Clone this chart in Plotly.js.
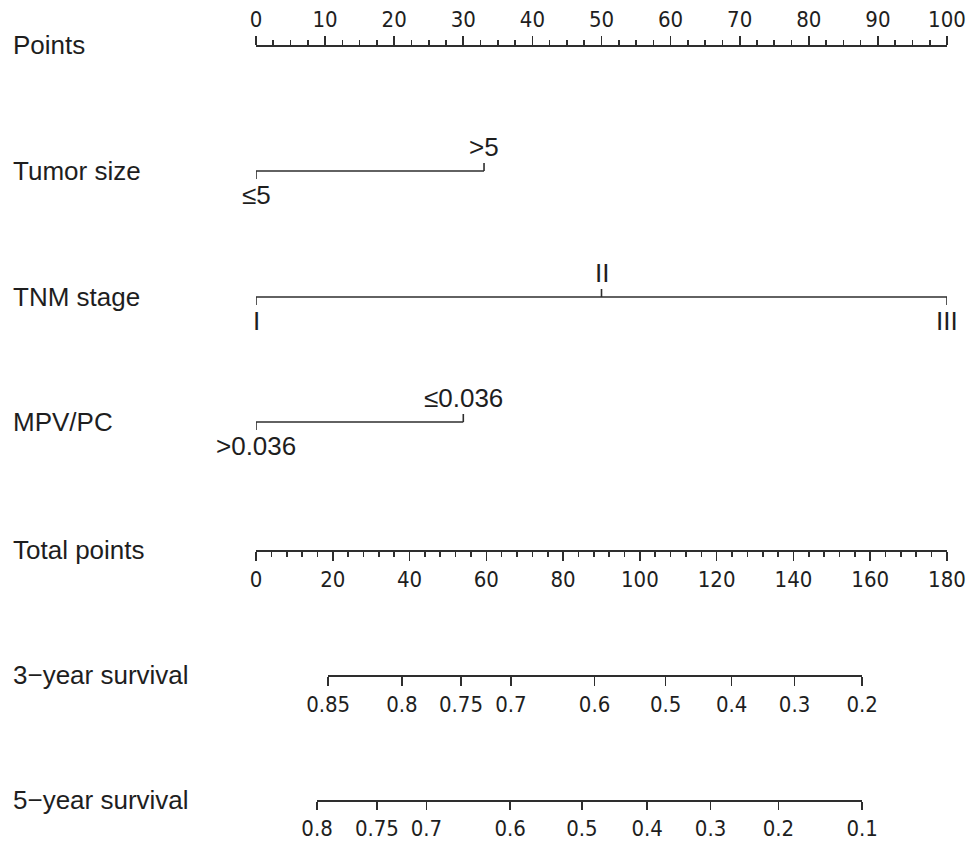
<!DOCTYPE html>
<html>
<head>
<meta charset="utf-8">
<script src="https://cdn.plot.ly/plotly-3.0.1.min.js"></script>
<style>html,body{margin:0;padding:0;background:#fff;}#chart{width:973px;height:841px;}</style>
</head>
<body>
<div id="chart"></div>
<script>
// ---- data ----
const rowLabels = ['Points', 'Tumor size', 'TNM stage', 'MPV/PC', 'Total points', '3\u2212year survival', '5\u2212year survival'];
const tumorLevels = ['\u22645', '>5'];
const tumorPoints = [0, 33];
const tnmLevels = ['I', 'II', 'III'];
const tnmPoints = [0, 50, 100];
const mpvLevels = ['>0.036', '\u22640.036'];
const mpvPoints = [0, 30];
const pointsRange = [0, 100];
const totalRange = [0, 180];
const surv3Labels = ['0.85', '0.8', '0.75', '0.7', '0.6', '0.5', '0.4', '0.3', '0.2'];
const surv3Total = [18.8, 38.0, 53.4, 66.4, 88.2, 106.7, 123.9, 140.3, 157.9];
const surv5Labels = ['0.8', '0.75', '0.7', '0.6', '0.5', '0.4', '0.3', '0.2', '0.1'];
const surv5Total = [15.9, 31.5, 44.4, 66.2, 84.9, 101.9, 118.4, 136.1, 157.9];

// ---- layout constants ----
const W = 973, H = 841;
const ML = 256, MR = 26;
const rowY = [45, 171, 297, 422, 550, 675, 800];
const lineColor = '#2e2e2e';
const textColor = '#1e1e1e';
const labelFont = {family: 'Liberation Sans, Arial, sans-serif', size: 26, color: textColor};
const tickFont = {family: 'Liberation Sans Narrow, DejaVu Sans Condensed, Arial Narrow, sans-serif', size: 22, color: textColor};
const LW = 1.6;
const varTick = 8;
const labOff = 24;

const pos = y => 1 - y / H;

const traces = [];
const annotations = [];

// row labels
rowLabels.forEach((t, i) => {
  annotations.push({text: t, xref: 'paper', yref: 'y', x: (11 - ML) / (W - ML - MR), y: rowY[i],
    xanchor: 'left', yanchor: 'middle', showarrow: false, font: labelFont});
});

// variable rows
function varRow(levels, pts, Y) {
  traces.push({x: [Math.min(...pts), Math.max(...pts)], y: [Y, Y], xaxis: 'x', yaxis: 'y', mode: 'lines',
    line: {color: lineColor, width: LW}, hoverinfo: 'skip', showlegend: false, cliponaxis: false});
  pts.forEach((p, i) => {
    const dir = (i % 2 === 0) ? 1 : -1;
    traces.push({x: [p, p], y: [Y, Y + dir * varTick], xaxis: 'x', yaxis: 'y', mode: 'lines',
      line: {color: lineColor, width: LW}, hoverinfo: 'skip', showlegend: false, cliponaxis: false});
    annotations.push({text: levels[i], xref: 'x', yref: 'y', x: p, y: Y + dir * labOff, xanchor: 'center',
      yanchor: 'middle', showarrow: false, font: labelFont});
  });
}
varRow(tumorLevels, tumorPoints, rowY[1]);
varRow(tnmLevels, tnmPoints, rowY[2]);
varRow(mpvLevels, mpvPoints, rowY[3]);

// dummy traces so each axis is drawn
function anchorTrace(xa, xs, Y) {
  traces.push({x: xs, y: xs.map(() => Y), xaxis: xa, yaxis: 'y', mode: 'markers',
    marker: {opacity: 0, size: 1}, hoverinfo: 'skip', showlegend: false});
}
anchorTrace('x', pointsRange, rowY[0]);
anchorTrace('x2', totalRange, rowY[4]);
anchorTrace('x3', surv3Total, rowY[5]);
anchorTrace('x4', surv5Total, rowY[6]);

const tr = totalRange[1] - totalRange[0];
const s3 = [Math.min(...surv3Total), Math.max(...surv3Total)];
const s5 = [Math.min(...surv5Total), Math.max(...surv5Total)];

const baseAxis = {
  showgrid: false, zeroline: false, showline: true, linecolor: lineColor, linewidth: LW,
  ticks: 'outside', ticklen: 9, tickwidth: LW, tickcolor: lineColor, tickfont: tickFont,
  fixedrange: true, anchor: 'free'
};

const layout = {
  width: W, height: H,
  margin: {l: ML, r: MR, t: 0, b: 0, pad: 0},
  paper_bgcolor: '#ffffff', plot_bgcolor: 'rgba(0,0,0,0)',
  showlegend: false,
  xaxis: Object.assign({}, baseAxis, {
    range: pointsRange, domain: [0, 1], side: 'top', position: pos(rowY[0]),
    tickmode: 'linear', tick0: 0, dtick: 10,
    minor: {dtick: 2.5, ticks: 'outside', ticklen: 5, tickwidth: LW, tickcolor: lineColor}
  }),
  xaxis2: Object.assign({}, baseAxis, {
    range: totalRange, domain: [0, 1], side: 'bottom', position: pos(rowY[4]),
    tickmode: 'linear', tick0: 0, dtick: 20,
    minor: {dtick: 4, ticks: 'outside', ticklen: 5, tickwidth: LW, tickcolor: lineColor}
  }),
  xaxis3: Object.assign({}, baseAxis, {
    range: s3, domain: [(s3[0] - totalRange[0]) / tr, (s3[1] - totalRange[0]) / tr],
    side: 'bottom', position: pos(rowY[5]), tickmode: 'array', tickvals: surv3Total, ticktext: surv3Labels
  }),
  xaxis4: Object.assign({}, baseAxis, {
    range: s5, domain: [(s5[0] - totalRange[0]) / tr, (s5[1] - totalRange[0]) / tr],
    side: 'bottom', position: pos(rowY[6]), tickmode: 'array', tickvals: surv5Total, ticktext: surv5Labels,
    ticklen: 8
  }),
  yaxis: {range: [H, 0], domain: [0, 1], visible: false, fixedrange: true, showgrid: false, zeroline: false},
  annotations: annotations
};

Plotly.newPlot('chart', traces, layout, {displayModeBar: false, staticPlot: true});
</script>
</body>
</html>
